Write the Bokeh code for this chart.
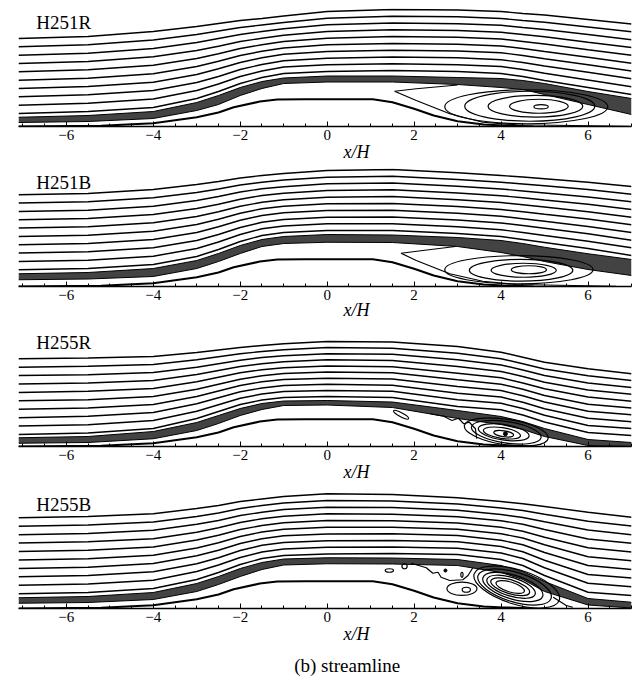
from bokeh.plotting import figure
from bokeh.layouts import column
from bokeh.models import Label, Range1d, SingleIntervalTicker
from bokeh.core.properties import value
from bokeh.embed import file_html
from bokeh.resources import INLINE

# ---------------- data ----------------
CASES = ["H251R", "H251B", "H255R", "H255B"]
CAPTION = "(b) streamline"
X_LABEL = "x/H"

# x/H stations at which the streamline heights (y/H) were read
X_STATIONS = [-7.1, -5.5, -4.0, -3.0, -2.5, -2.0, -1.5, -1.0, 0.0, 1.5, 3.0, 4.0, 4.5, 5.0, 6.0, 7.0]

# hill surface
HILL_X = [-7.1, -5.2, -4.0, -3.0, -2.5, -2.15, -1.55, -1.15, -0.5, 0.5, 1.05, 1.5, 2.0, 2.45, 3.0, 3.6, 4.05, 4.75]
HILL_Y = [0.0, 0.03, 0.13, 0.37, 0.56, 0.77, 1.00, 1.08, 1.09, 1.09, 1.09, 0.97, 0.71, 0.44, 0.21, 0.08, 0.04, 0.0]

# heights of the 10 outer streamlines at each station (top to bottom)
H251R_LINES = [
    [3.52, 3.19, 2.85, 2.52, 2.19, 1.85, 1.52, 1.19, 0.85, 0.52],
    [3.60, 3.27, 2.93, 2.60, 2.27, 1.93, 1.60, 1.27, 0.93, 0.60],
    [3.80, 3.46, 3.12, 2.79, 2.45, 2.11, 1.77, 1.44, 1.10, 0.76],
    [4.00, 3.68, 3.36, 3.04, 2.72, 2.40, 2.08, 1.76, 1.44, 1.12],
    [4.12, 3.82, 3.52, 3.21, 2.91, 2.61, 2.31, 2.00, 1.70, 1.40],
    [4.24, 3.96, 3.68, 3.40, 3.12, 2.84, 2.56, 2.28, 2.00, 1.72],
    [4.32, 4.06, 3.80, 3.53, 3.27, 3.01, 2.75, 2.48, 2.22, 1.96],
    [4.42, 4.16, 3.91, 3.65, 3.40, 3.14, 2.89, 2.63, 2.38, 2.12],
    [4.60, 4.33, 4.07, 3.80, 3.53, 3.27, 3.00, 2.73, 2.47, 2.20],
    [4.68, 4.41, 4.14, 3.87, 3.60, 3.32, 3.05, 2.78, 2.51, 2.24],
    [4.66, 4.39, 4.11, 3.84, 3.57, 3.29, 3.02, 2.75, 2.47, 2.20],
    [4.60, 4.32, 4.05, 3.77, 3.50, 3.22, 2.95, 2.67, 2.40, 2.12],
    [4.52, 4.24, 3.96, 3.68, 3.40, 3.12, 2.84, 2.56, 2.28, 2.00],
    [4.46, 4.17, 3.88, 3.59, 3.30, 3.00, 2.71, 2.42, 2.13, 1.84],
    [4.28, 3.98, 3.68, 3.37, 3.07, 2.77, 2.47, 2.17, 1.86, 1.56],
    [4.10, 3.79, 3.47, 3.16, 2.85, 2.53, 2.22, 1.91, 1.59, 1.28],
]
H251R_BAND_TOP = [0.37, 0.44, 0.60, 0.96, 1.24, 1.56, 1.80, 1.94, 2.02, 2.02, 1.96, 1.92, 1.84, 1.72, 1.40, 1.12]
H251R_BAND_BOT = [0.16, 0.20, 0.32, 0.64, 0.88, 1.24, 1.52, 1.72, 1.78, 1.78, 1.68, 1.56, 1.48, 1.28, 0.88, 0.48]
H251R_SEP_X = [3.00, 2.05, 1.55, 2.05, 2.82, 3.58, 4.35, 6.95]
H251R_SEP_Y = [1.66, 1.51, 1.41, 1.04, 0.51, 0.17, 0.07, 0.01]
H251R_VORTEX = dict(x=[4.58, 4.66, 4.79, 4.87, 4.92], y=[0.79, 0.81, 0.81, 0.81, 0.79],
                    w=[3.75, 2.99, 2.18, 1.35, 0.33], h=[1.36, 1.20, 0.87, 0.56, 0.17])

H251B_LINES = [
    [3.67, 3.34, 3.00, 2.67, 2.34, 2.00, 1.67, 1.34, 1.00, 0.67],
    [3.72, 3.39, 3.05, 2.72, 2.39, 2.05, 1.72, 1.39, 1.05, 0.72],
    [3.88, 3.55, 3.21, 2.88, 2.55, 2.21, 1.88, 1.55, 1.21, 0.88],
    [4.08, 3.76, 3.44, 3.12, 2.80, 2.48, 2.16, 1.84, 1.52, 1.20],
    [4.20, 3.90, 3.60, 3.29, 2.99, 2.69, 2.39, 2.08, 1.78, 1.48],
    [4.34, 4.06, 3.78, 3.49, 3.21, 2.93, 2.65, 2.36, 2.08, 1.80],
    [4.44, 4.17, 3.91, 3.64, 3.37, 3.11, 2.84, 2.57, 2.31, 2.04],
    [4.52, 4.26, 3.99, 3.73, 3.47, 3.21, 2.95, 2.68, 2.42, 2.16],
    [4.64, 4.37, 4.11, 3.84, 3.57, 3.31, 3.04, 2.77, 2.51, 2.24],
    [4.68, 4.41, 4.14, 3.87, 3.60, 3.32, 3.05, 2.78, 2.51, 2.24],
    [4.55, 4.28, 4.01, 3.74, 3.47, 3.20, 2.93, 2.66, 2.39, 2.12],
    [4.44, 4.17, 3.90, 3.63, 3.36, 3.08, 2.81, 2.54, 2.27, 2.00],
    [4.38, 4.10, 3.82, 3.55, 3.27, 2.99, 2.71, 2.44, 2.16, 1.88],
    [4.31, 4.03, 3.74, 3.46, 3.18, 2.89, 2.61, 2.33, 2.04, 1.76],
    [4.17, 3.88, 3.58, 3.29, 2.99, 2.70, 2.40, 2.11, 1.81, 1.52],
    [4.00, 3.69, 3.39, 3.08, 2.77, 2.47, 2.16, 1.85, 1.55, 1.24],
]
H251B_BAND_TOP = [0.51, 0.56, 0.72, 1.04, 1.32, 1.64, 1.88, 2.00, 2.08, 2.06, 1.96, 1.84, 1.72, 1.57, 1.31, 1.08]
H251B_BAND_BOT = [0.27, 0.30, 0.40, 0.72, 1.00, 1.32, 1.60, 1.72, 1.77, 1.76, 1.60, 1.36, 1.20, 1.00, 0.68, 0.44]
H251B_SEP_X = [2.95, 2.20, 1.70, 2.05, 2.82, 3.58, 4.35, 6.65]
H251B_SEP_Y = [1.60, 1.44, 1.33, 1.04, 0.51, 0.21, 0.08, 0.01]
H251B_VORTEX = dict(x=[4.41, 4.46, 4.52, 4.64], y=[0.67, 0.65, 0.65, 0.67],
                    w=[3.41, 2.38, 1.50, 0.81], h=[1.13, 0.87, 0.56, 0.32])

H255R_LINES = [
    [3.51, 3.17, 2.84, 2.50, 2.16, 1.83, 1.49, 1.15, 0.82, 0.48],
    [3.54, 3.21, 2.87, 2.54, 2.21, 1.87, 1.54, 1.21, 0.87, 0.54],
    [3.60, 3.28, 2.96, 2.64, 2.32, 2.00, 1.68, 1.36, 1.04, 0.72],
    [3.76, 3.47, 3.17, 2.88, 2.59, 2.29, 2.00, 1.71, 1.41, 1.12],
    [3.86, 3.59, 3.31, 3.04, 2.77, 2.49, 2.22, 1.95, 1.67, 1.40],
    [3.96, 3.71, 3.45, 3.20, 2.95, 2.69, 2.44, 2.19, 1.93, 1.68],
    [4.04, 3.80, 3.56, 3.31, 3.07, 2.83, 2.59, 2.34, 2.10, 1.86],
    [4.11, 3.87, 3.63, 3.39, 3.15, 2.92, 2.68, 2.44, 2.20, 1.96],
    [4.20, 3.96, 3.71, 3.47, 3.22, 2.98, 2.73, 2.49, 2.24, 2.00],
    [4.18, 3.93, 3.69, 3.44, 3.19, 2.95, 2.70, 2.45, 2.21, 1.96],
    [4.00, 3.73, 3.47, 3.20, 2.93, 2.67, 2.40, 2.13, 1.87, 1.60],
    [3.77, 3.51, 3.26, 3.00, 2.75, 2.49, 2.24, 1.98, 1.73, 1.47],
    [3.57, 3.31, 3.06, 2.80, 2.54, 2.29, 2.03, 1.77, 1.52, 1.26],
    [3.37, 3.10, 2.84, 2.57, 2.31, 2.04, 1.78, 1.51, 1.25, 0.98],
    [3.11, 2.83, 2.54, 2.26, 1.98, 1.69, 1.41, 1.13, 0.84, 0.56],
    [2.91, 2.64, 2.36, 2.09, 1.81, 1.54, 1.27, 0.99, 0.72, 0.44],
]
H255R_BAND_TOP = [0.35, 0.40, 0.60, 0.96, 1.24, 1.52, 1.72, 1.82, 1.84, 1.78, 1.44, 1.20, 1.00, 0.72, 0.28, 0.16]
H255R_BAND_BOT = [0.13, 0.16, 0.31, 0.64, 0.92, 1.24, 1.48, 1.64, 1.66, 1.56, 1.12, 0.88, 0.68, 0.40, 0.04, 0.00]
H255R_SEP_X = [2.37, 2.68, 2.87, 3.02, 3.14, 3.27, 3.41, 3.44]
H255R_SEP_Y = [1.31, 1.21, 1.04, 1.13, 0.91, 0.97, 0.71, 0.31]
H255R_VORTEX = dict(x=[4.12, 4.12, 4.06, 4.02, 4.06], y=[0.58, 0.57, 0.57, 0.54, 0.51],
                    w=[1.95, 1.62, 1.18, 0.86, 0.46], h=[1.02, 0.86, 0.62, 0.43, 0.24])
H255R_BLOB = dict(x=[1.70], y=[1.27], w=[0.39], h=[0.16])
H255R_CORE = dict(x=[4.10], y=[0.51])

H255B_LINES = [
    [3.63, 3.29, 2.95, 2.62, 2.28, 1.94, 1.60, 1.27, 0.93, 0.59],
    [3.68, 3.34, 3.00, 2.67, 2.33, 1.99, 1.65, 1.32, 0.98, 0.64],
    [3.79, 3.46, 3.13, 2.79, 2.46, 2.13, 1.80, 1.47, 1.13, 0.80],
    [4.00, 3.68, 3.37, 3.05, 2.74, 2.42, 2.11, 1.79, 1.48, 1.16],
    [4.12, 3.82, 3.52, 3.23, 2.93, 2.63, 2.33, 2.03, 1.74, 1.44],
    [4.28, 4.00, 3.72, 3.44, 3.16, 2.88, 2.60, 2.32, 2.04, 1.76],
    [4.38, 4.12, 3.85, 3.59, 3.32, 3.06, 2.79, 2.53, 2.26, 2.00],
    [4.48, 4.22, 3.96, 3.69, 3.43, 3.17, 2.91, 2.64, 2.38, 2.12],
    [4.59, 4.32, 4.05, 3.79, 3.52, 3.25, 2.98, 2.71, 2.45, 2.18],
    [4.56, 4.30, 4.04, 3.77, 3.51, 3.25, 2.99, 2.72, 2.46, 2.20],
    [4.43, 4.18, 3.93, 3.67, 3.42, 3.17, 2.92, 2.67, 2.41, 2.16],
    [4.28, 4.02, 3.76, 3.51, 3.25, 2.99, 2.73, 2.48, 2.22, 1.96],
    [4.19, 3.92, 3.64, 3.37, 3.09, 2.82, 2.55, 2.27, 2.00, 1.72],
    [4.08, 3.77, 3.47, 3.16, 2.85, 2.55, 2.24, 1.93, 1.63, 1.32],
    [3.85, 3.49, 3.14, 2.78, 2.43, 2.07, 1.72, 1.36, 1.01, 0.65],
    [3.65, 3.30, 2.95, 2.61, 2.26, 1.91, 1.56, 1.22, 0.87, 0.52],
]
H255B_BAND_TOP = [0.43, 0.48, 0.64, 1.00, 1.28, 1.60, 1.84, 1.98, 2.03, 2.02, 1.96, 1.72, 1.48, 1.08, 0.40, 0.25]
H255B_BAND_BOT = [0.21, 0.24, 0.36, 0.68, 0.96, 1.28, 1.56, 1.74, 1.79, 1.78, 1.72, 1.44, 1.16, 0.68, 0.14, 0.02]
H255B_SEP_X = [1.93, 2.28, 2.43, 2.55, 2.62, 2.82, 3.12, 3.24, 3.35]
H255B_SEP_Y = [1.81, 1.63, 1.41, 1.45, 1.25, 1.12, 1.15, 1.32, 1.63]
H255B_TAIL_X = [5.20, 5.50, 5.65]
H255B_TAIL_Y = [0.45, 0.12, 0.05]
H255B_VORTEX = dict(x=[4.36, 4.31, 4.27, 4.23, 4.21, 4.21], y=[0.86, 0.86, 0.86, 0.87, 0.87, 0.86],
                    w=[2.05, 1.76, 1.44, 1.16, 0.93, 0.68], h=[1.38, 1.18, 0.95, 0.74, 0.56, 0.40])
H255B_BLOBS = dict(x=[1.43, 1.78, 3.10, 3.20, 3.10], y=[1.52, 1.69, 0.79, 0.75, 1.35],
                   w=[0.19, 0.12, 0.69, 0.19, 0.05], h=[0.14, 0.20, 0.53, 0.20, 0.20])
H255B_CORE = dict(x=[2.72], y=[1.52])

# ---------------- drawing ----------------
SERIF = "Liberation Serif"
PX_PER_UNIT_Y = 25.0
FRAME_W = 613
X_RANGE = (-7.1, 7.0)


def panel(name, lines, band_top, band_bot, sep_x, sep_y, vortex, vortex_angle,
          frame_h, top, bottom, label_standoff, extra=None):
    p = figure(frame_width=FRAME_W, frame_height=frame_h,
               min_border_left=18, min_border_right=5, min_border_top=top, min_border_bottom=bottom,
               x_range=Range1d(*X_RANGE), y_range=Range1d(0, frame_h / PX_PER_UNIT_Y),
               y_axis_location=None, toolbar_location=None, output_backend="svg",
               title=X_LABEL, title_location="below")
    p.title.text_font = SERIF
    p.title.text_font_size = "18px"
    p.title.text_font_style = "italic"
    p.title.text_color = "black"
    p.title.align = "left"
    p.title.offset = 325
    p.title.standoff = label_standoff
    p.grid.grid_line_color = None
    p.outline_line_color = None
    p.background_fill_color = "white"
    p.border_fill_color = "white"

    ax = p.xaxis[0]
    ax.ticker = SingleIntervalTicker(interval=2, num_minor_ticks=4)
    ax.axis_line_color = "black"
    ax.axis_line_width = 1.3
    ax.major_tick_in = 5
    ax.major_tick_out = 0
    ax.minor_tick_in = 3
    ax.minor_tick_out = 0
    ax.major_tick_line_color = "black"
    ax.minor_tick_line_color = "black"
    ax.major_label_text_font = SERIF
    ax.major_label_text_font_size = "15px"
    ax.major_label_text_color = "black"
    ax.major_label_standoff = 3

    # streamlines
    ys = [list(col) for col in zip(*lines)]
    p.multi_line(xs=[X_STATIONS] * len(ys), ys=ys, line_color="black", line_width=1.4)
    # dense streamline band along the dividing streamline
    p.varea(x=X_STATIONS, y1=band_bot, y2=band_top, fill_color="#1a1a1a", fill_alpha=0.82)
    p.line(X_STATIONS, band_top, line_color="black", line_width=1.0)
    p.line(X_STATIONS, band_bot, line_color="black", line_width=1.0)
    # hill
    p.line(HILL_X, HILL_Y, line_color="black", line_width=2.2)
    # separated region
    p.line(sep_x, sep_y, line_color="black", line_width=1.2)
    p.ellipse(x=vortex["x"], y=vortex["y"], width=vortex["w"], height=vortex["h"],
              angle=vortex_angle, fill_color=None, line_color="black", line_width=1.2)
    if extra:
        extra(p)

    p.add_layout(Label(x=-6.69, y=4.16, text=name, text_font=SERIF, text_font_size="19px",
                       text_color="black", text_baseline="alphabetic", text_align="left"))
    return p


def extra_h255r(p):
    p.ellipse(x=H255R_BLOB["x"], y=H255R_BLOB["y"], width=H255R_BLOB["w"], height=H255R_BLOB["h"],
              angle=-0.49, fill_color=None, line_color="black", line_width=1.2)
    p.scatter(x=H255R_CORE["x"], y=H255R_CORE["y"], size=4, color="black")


def extra_h255b(p):
    p.ellipse(x=H255B_BLOBS["x"], y=H255B_BLOBS["y"], width=H255B_BLOBS["w"], height=H255B_BLOBS["h"],
              fill_color=None, line_color="black", line_width=1.2)
    p.line(H255B_TAIL_X, H255B_TAIL_Y, line_color="black", line_width=1.2)
    p.scatter(x=H255B_CORE["x"], y=H255B_CORE["y"], size=3, color="black")


p1 = panel(CASES[0], H251R_LINES, H251R_BAND_TOP, H251R_BAND_BOT, H251R_SEP_X, H251R_SEP_Y,
           H251R_VORTEX, 0.0, 118, 8, 42, -6)
p2 = panel(CASES[1], H251B_LINES, H251B_BAND_TOP, H251B_BAND_BOT, H251B_SEP_X, H251B_SEP_Y,
           H251B_VORTEX, 0.0, 118, 0, 42, -9)
p3 = panel(CASES[2], H255R_LINES, H255R_BAND_TOP, H255R_BAND_BOT, H255R_SEP_X, H255R_SEP_Y,
           H255R_VORTEX, -0.15, 118, 0, 42, -6, extra=extra_h255r)
p4 = panel(CASES[3], H255B_LINES, H255B_BAND_TOP, H255B_BAND_BOT, H255B_SEP_X, H255B_SEP_Y,
           H255B_VORTEX, -0.3, 120, 0, 40, -6, extra=extra_h255b)

# caption strip
cap = figure(frame_width=FRAME_W, frame_height=29, min_border_left=18, min_border_right=5,
             min_border_top=0, min_border_bottom=0,
             x_range=Range1d(*X_RANGE), y_range=Range1d(0, 29),
             x_axis_location=None, y_axis_location=None, toolbar_location=None,
             output_backend="svg")
cap.title.visible = False
cap.grid.grid_line_color = None
cap.outline_line_color = None
cap.text(x=[0.46], y=[12], text=[CAPTION], text_font=value(SERIF), text_font_size="19px",
         text_color="black", text_align="center", text_baseline="alphabetic")

layout = column(p1, p2, p3, p4, cap, spacing=0)
open("out.html", "w").write(file_html(layout, INLINE))
